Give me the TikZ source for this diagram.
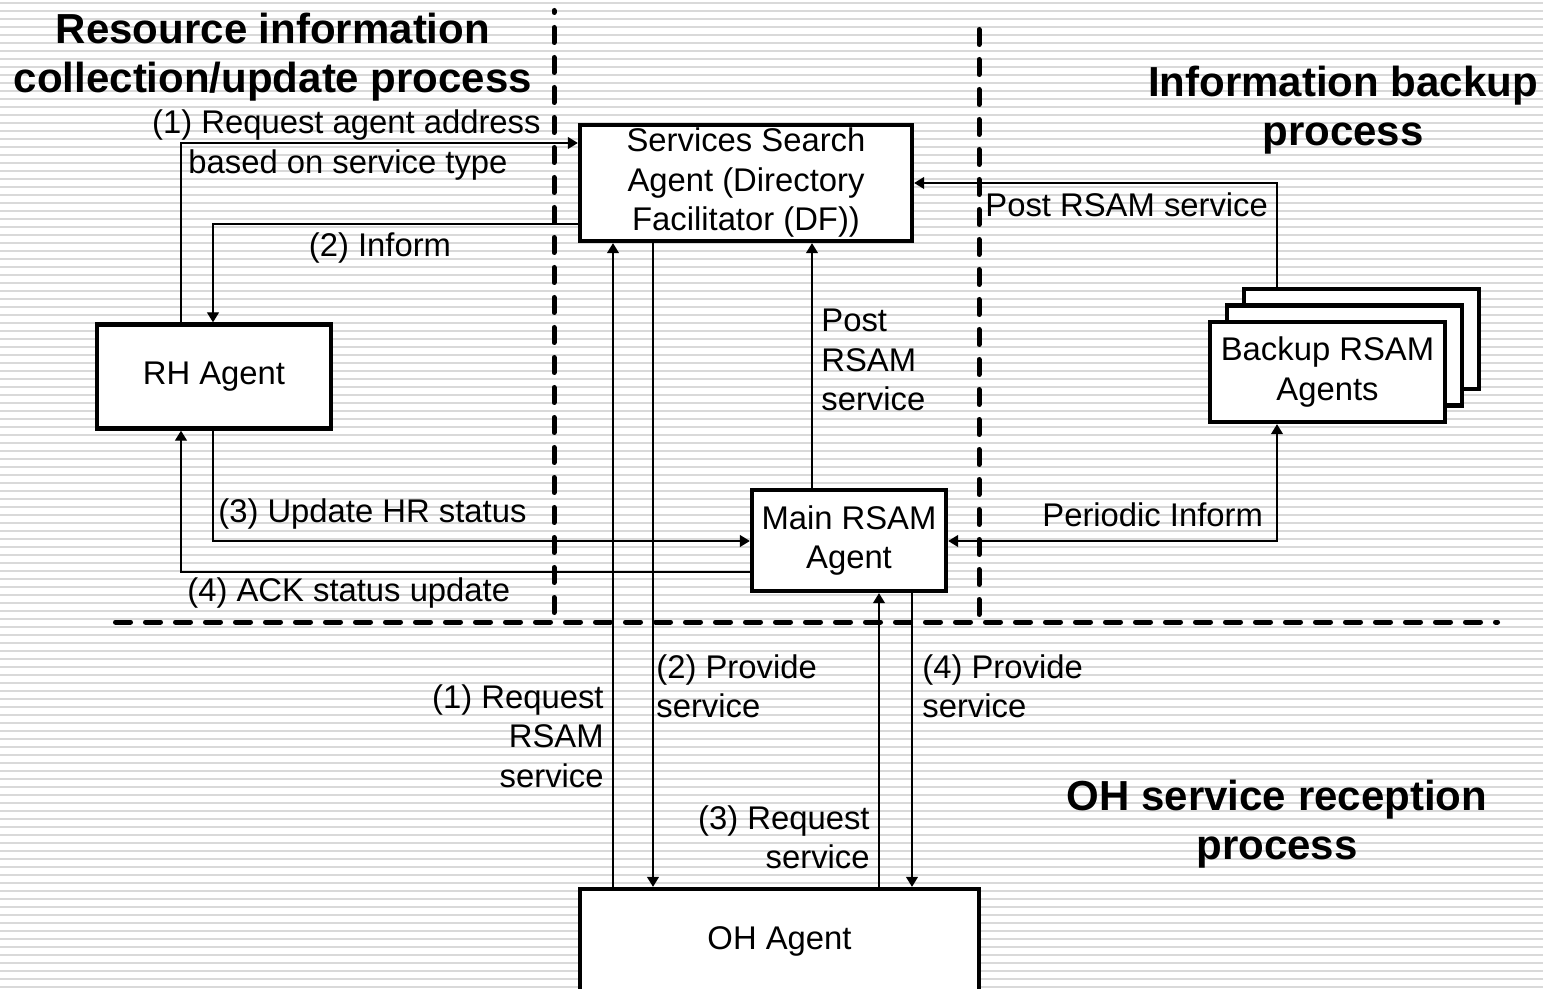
\documentclass[tikz,border=0pt]{standalone}
\usepackage{fontspec}
\setmainfont{Liberation Sans}
\usetikzlibrary{arrows.meta}
\definecolor{ruling}{RGB}{217,217,217}
\begin{document}
\begin{tikzpicture}[x=0.5pt,y=-0.5pt,
  box/.style={draw, line width=2.2pt, fill=white, inner sep=0pt, align=center,
              font=\fontsize{16.4}{19.75}\selectfont},
  lbl/.style={inner sep=0pt, font=\fontsize{16.4}{19.75}\selectfont},
  title/.style={inner sep=0pt, align=center, font=\fontsize{21}{24.5}\selectfont\bfseries},
  conn/.style={line width=0.6pt, -{Triangle[length=5pt,width=6pt]}},
  twoway/.style={line width=0.6pt, {Triangle[length=5pt,width=6pt]}-{Triangle[length=5pt,width=6pt]}},
  sep/.style={line width=2.5pt, line cap=round, dash pattern=on 7.5pt off 7.5pt},
]
\useasboundingbox (0,0) rectangle (1543,989);
\clip (0,0) rectangle (1543,989);

% ruled paper background
\fill[white] (0,0) rectangle (1543,989);
\foreach \k in {0,...,123}
  \draw[ruling, line width=1pt] (0,{3+8*\k}) -- (1543,{3+8*\k});

% process separators
\draw[sep, dash phase=6.5pt] (554,10.5) -- (554,622);
\draw[sep] (979,29.5) -- (979,622);
\draw[sep] (115.5,622) -- (1497.5,622);

% agents
\node[box, minimum width=166pt, minimum height=58pt] (DF) at (746,183)
  {Services Search\\Agent (Directory\\Facilitator (DF))};
\node[box, minimum width=117pt, minimum height=52pt] (RH) at (214,376.5) {RH Agent};
\node[box, minimum width=97pt, minimum height=50.5pt] (Main) at (849,540.5) {Main RSAM\\Agent};
\node[box, minimum width=199.5pt, minimum height=52pt] (OH) at (779.5,941) {OH Agent};
\node[box, minimum width=117.5pt, minimum height=50pt] (Bk3) at (1361.5,339) {};
\node[box, minimum width=117.5pt, minimum height=50pt] (Bk2) at (1344.5,355.5) {};
\node[box, minimum width=117.5pt, minimum height=50pt] (Bk1) at (1327.5,372) {Backup RSAM\\Agents};

% corner points of the message routes
\coordinate (r1) at (181,143);
\coordinate (r2) at (213,224);
\coordinate (r3) at (213,541);
\coordinate (r4) at (181,572);
\coordinate (r5) at (812,0);
\coordinate (r6) at (1277,183);
\coordinate (r7) at (1277,541);
\coordinate (c1) at (613,0);
\coordinate (c2) at (653,0);
\coordinate (c3) at (879,0);
\coordinate (c4) at (912,0);

% messages
\draw[conn] (RH.north -| r1) |- (DF.west |- r1);
\draw[conn] (DF.west |- r2) -| (RH.north -| r2);
\draw[conn] (RH.south -| r3) |- (Main.west |- r3);
\draw[conn] (Main.west |- r4) -| (RH.south -| r4);
\draw[conn] (Main.north -| r5) -- (DF.south -| r5);
\draw[conn] (Bk3.north -| r6) |- (DF.east |- r6);
\draw[twoway] (Main.east |- r7) -| (Bk1.south -| r7);
\draw[conn] (OH.north -| c1) -- (DF.south -| c1);
\draw[conn] (DF.south -| c2) -- (OH.north -| c2);
\draw[conn] (OH.north -| c3) -- (Main.south -| c3);
\draw[conn] (Main.south -| c4) -- (OH.north -| c4);

% message labels
\node[lbl, anchor=north east] (l1a) at (541,109) {(1) Request agent address};
\node[lbl, anchor=north west] (l1b) at (188,149) {based on service type};
\node[lbl, anchor=north] (l2) at (380,232) {(2) Inform};
\node[lbl, anchor=north west] (l3) at (218,498) {(3) Update HR status};
\node[lbl, anchor=north west] (l4) at (187,577) {(4) ACK status update};
\node[lbl, anchor=north west, align=left] (l5) at (821,309) {Post\\RSAM\\service};
\node[lbl, anchor=north west] (l6) at (985,192) {Post RSAM service};
\node[lbl, anchor=north west] (l7) at (1042,502) {Periodic Inform};
\node[lbl, anchor=north east, align=right] (o1) at (604,684) {(1) Request\\RSAM\\service};
\node[lbl, anchor=north west, align=left] (o2) at (656,654) {(2) Provide\\service};
\node[lbl, anchor=north east, align=right] (o3) at (870,805) {(3) Request\\service};
\node[lbl, anchor=north west, align=left] (o4) at (922,654) {(4) Provide\\service};

% process titles
\node[title, anchor=north] (t1) at (273,13) {Resource information\\collection/update process};
\node[title, anchor=north] (t2) at (1343,66) {Information backup\\process};
\node[title, anchor=north] (t3) at (1277,780) {OH service reception\\process};
\end{tikzpicture}
\end{document}
